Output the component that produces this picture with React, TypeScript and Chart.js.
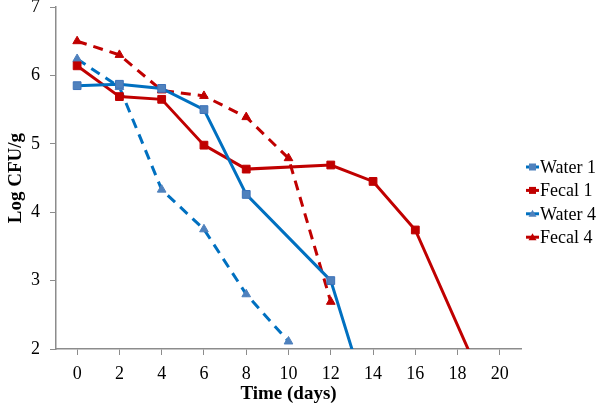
import React, { useEffect, useRef } from "react";
import { Chart, registerables } from "chart.js";

Chart.register(...registerables);

const xTickValues = [0, 2, 4, 6, 8, 10, 12, 14, 16, 18, 20];
const yTickValues = [2, 3, 4, 5, 6, 7];

const water1Days = [0, 2, 4, 6, 8, 12, 14];
const water1 = [5.85, 5.87, 5.81, 5.5, 4.26, 3.0, 1.0];

const fecal1Days = [0, 2, 4, 6, 8, 12, 14, 16, 20];
const fecal1 = [6.14, 5.69, 5.65, 4.98, 4.63, 4.69, 4.45, 3.74, 0.95];

const water4Days = [0, 2, 4, 6, 8, 10];
const water4 = [6.24, 5.83, 4.33, 3.75, 2.8, 2.11];

const fecal4Days = [0, 2, 4, 6, 8, 10, 12];
const fecal4 = [6.5, 6.3, 5.78, 5.7, 5.39, 4.79, 2.69];

const seriesNames = ["Water 1", "Fecal 1", "Water 4", "Fecal 4"];

const FONT = "'Liberation Serif', 'Times New Roman', serif";

const toPoints = (xs: number[], ys: number[]) => xs.map((x, i) => ({ x, y: ys[i] }));

const legendPlugin = {
  id: "sideLegend",
  afterDraw(chart: any) {
    const ctx = chart.ctx;
    const ds = chart.data.datasets;
    ctx.save();
    ds.forEach((d: any, i: number) => {
      const y = 167 + i * 23.4;
      const x0 = 526;
      const x1 = 539;
      ctx.strokeStyle = d.borderColor;
      ctx.lineWidth = 3;
      ctx.setLineDash([]);
      ctx.beginPath();
      ctx.moveTo(x0, y);
      ctx.lineTo(x1, y);
      ctx.stroke();
      ctx.fillStyle = d.pointBackgroundColor;
      ctx.strokeStyle = d.pointBorderColor;
      ctx.lineWidth = 1;
      if (d.pointStyle === "rect") {
        ctx.fillRect(x0 + 3, y - 3.5, 7, 7);
      } else {
        ctx.beginPath();
        ctx.moveTo(x0 + 6.5, y - 4);
        ctx.lineTo(x0 + 10.5, y + 3);
        ctx.lineTo(x0 + 2.5, y + 3);
        ctx.closePath();
        ctx.fill();
      }
      ctx.fillStyle = "#000";
      ctx.font = `18px ${FONT}`;
      ctx.textBaseline = "middle";
      ctx.textAlign = "left";
      ctx.fillText(d.label, x1 + 1, y + 1);
    });
    ctx.restore();
  },
};

export default function App() {
  const ref = useRef<HTMLCanvasElement>(null);
  useEffect(() => {
    document.body.style.margin = "0";
    const canvas = ref.current!;
    const blue = "#0070C0";
    const red = "#C00000";
    const chart = new Chart(canvas, {
      type: "line",
      data: {
        datasets: [
          {
            label: seriesNames[0],
            data: toPoints(water1Days, water1),
            borderColor: blue,
            borderWidth: 3,
            pointStyle: "rect",
            pointRadius: 5.5,
            pointBackgroundColor: "#4F81BD",
            pointBorderColor: "#3D72B8",
            pointBorderWidth: 1,
            clip: 0,
          },
          {
            label: seriesNames[1],
            data: toPoints(fecal1Days, fecal1),
            borderColor: red,
            borderWidth: 3,
            pointStyle: "rect",
            pointRadius: 5.5,
            pointBackgroundColor: red,
            pointBorderColor: red,
            pointBorderWidth: 1,
            clip: 0,
          },
          {
            label: seriesNames[2],
            data: toPoints(water4Days, water4),
            borderColor: blue,
            borderWidth: 3,
            borderDash: [10, 7],
            pointStyle: "triangle",
            pointRadius: 5,
            pointBackgroundColor: "#4F81BD",
            pointBorderColor: "#4F81BD",
            pointBorderWidth: 1,
            clip: 0,
          },
          {
            label: seriesNames[3],
            data: toPoints(fecal4Days, fecal4),
            borderColor: red,
            borderWidth: 3,
            borderDash: [10, 7],
            pointStyle: "triangle",
            pointRadius: 5,
            pointBackgroundColor: red,
            pointBorderColor: red,
            pointBorderWidth: 1,
            clip: 0,
          },
        ],
      },
      options: {
        responsive: false,
        animation: false,
        layout: { padding: { left: 0, right: 79, top: 0, bottom: 0 } },
        plugins: {
          legend: { display: false },
          tooltip: { enabled: false },
        },
        scales: {
          x: {
            type: "linear",
            min: -1,
            max: 21,
            afterBuildTicks: (axis: any) => {
              axis.ticks = xTickValues.map((v) => ({ value: v }));
            },
            afterFit: (scale: any) => {
              scale.height = 58;
            },
            ticks: {
              font: { family: FONT, size: 18 },
              color: "#000",
              padding: 8,
              maxRotation: 0,
              autoSkip: false,
            },
            grid: {
              drawOnChartArea: false,
              drawTicks: true,
              tickLength: 6,
              color: "#8C8C8C",
            },
            border: { color: "#8C8C8C", width: 1.5 },
            title: {
              display: true,
              text: "Time (days)",
              font: { family: FONT, size: 19, weight: "bold" },
              color: "#000",
              padding: { top: 0, bottom: 2 },
            },
          },
          y: {
            min: 2,
            max: 7,
            afterBuildTicks: (axis: any) => {
              axis.ticks = yTickValues.map((v) => ({ value: v }));
            },
            afterFit: (scale: any) => {
              scale.width = 56;
              scale.paddingTop = 7;
            },
            ticks: {
              font: { family: FONT, size: 18 },
              color: "#000",
              padding: 10,
            },
            grid: {
              drawOnChartArea: false,
              drawTicks: true,
              tickLength: 6,
              color: "#8C8C8C",
            },
            border: { color: "#8C8C8C", width: 1.5 },
            title: {
              display: true,
              text: "Log CFU/g",
              font: { family: FONT, size: 19, weight: "bold" },
              color: "#000",
              padding: { top: 5, bottom: 0 },
            },
          },
        },
      },
      plugins: [legendPlugin],
    } as any);
    return () => chart.destroy();
  }, []);
  return (
    <div style={{ width: 600, height: 407 }}>
      <canvas ref={ref} width={600} height={407} />
    </div>
  );
}
